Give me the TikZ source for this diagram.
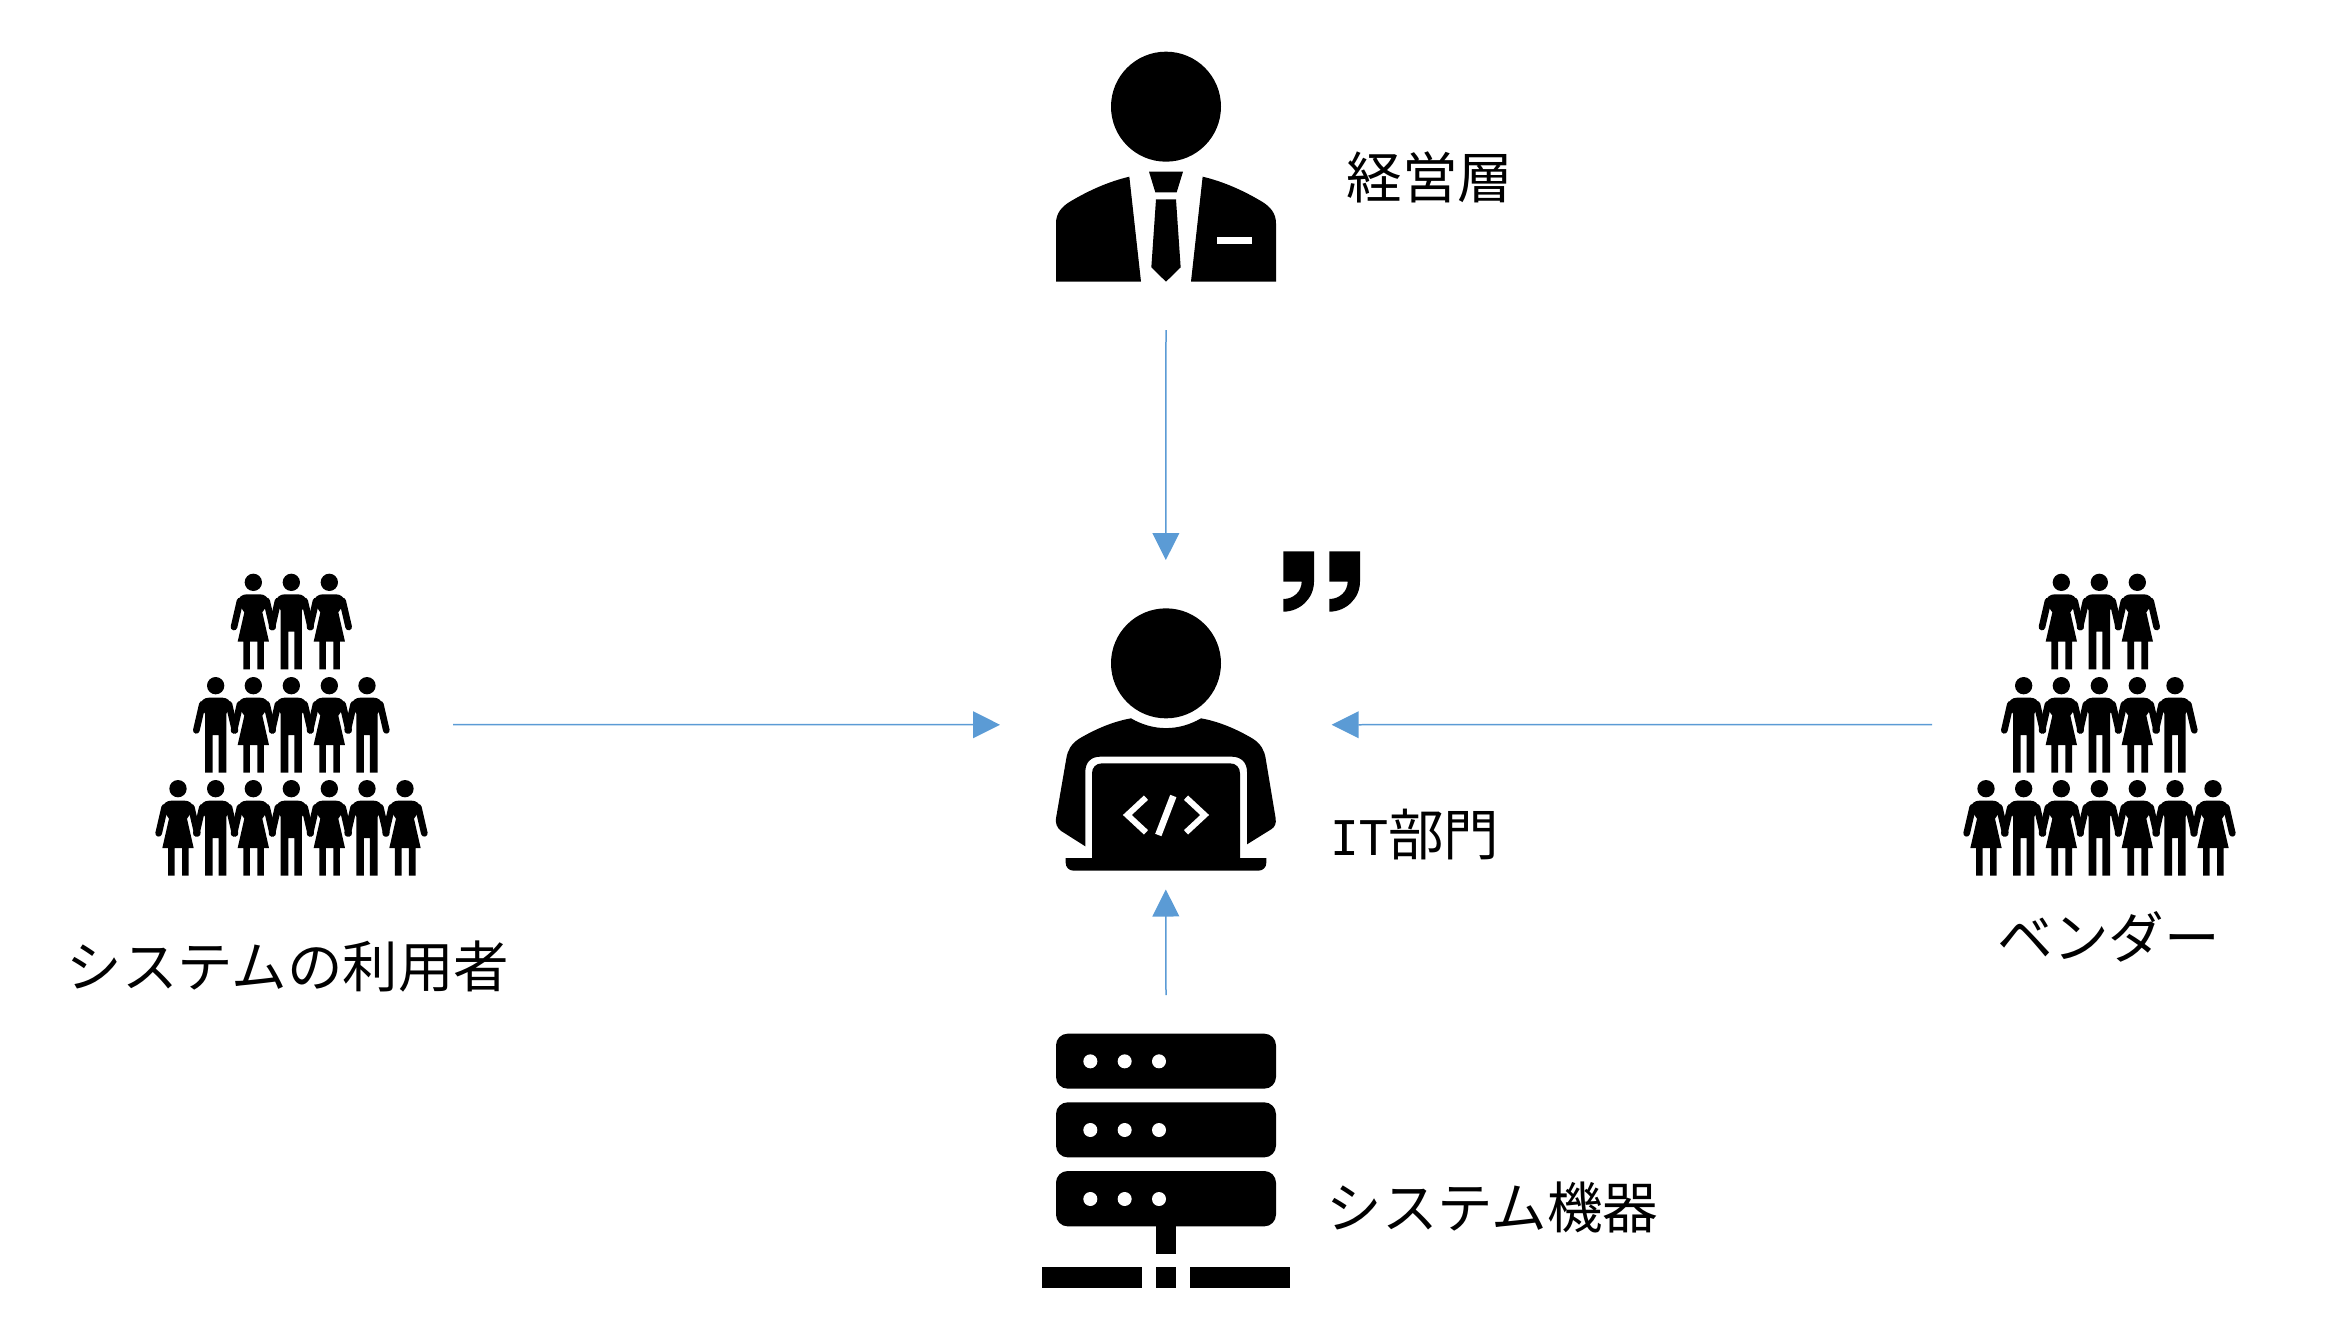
\documentclass[tikz,border=0pt]{standalone}
\usepackage{fontspec}
\usetikzlibrary{arrows.meta}
\setmainfont{Noto Sans CJK JP}
\newfontfamily\latinlab{DejaVu Sans Mono}
\definecolor{arrowblue}{HTML}{5B9BD5}
\newcommand{\headfig}{\fill (0,0) circle[radius=26];}
\newcommand{\armsfig}{%
  \draw[line width=0.667mm,line cap=round] (40,56) -- (58,134);
  \draw[line width=0.667mm,line cap=round] (-40,56) -- (-58,134);}
\newcommand{\manfig}[2]{\begin{scope}[shift={(#1,#2)}]
  \headfig\armsfig
  \fill (-20,36) -- (20,36) .. controls (34,36) and (44,44) .. (48,60) -- (32,84) -- (32,261) -- (9,261) -- (9,148) -- (-9,148) -- (-9,261) -- (-32,261) -- (-32,84) -- (-48,60) .. controls (-44,44) and (-34,36) .. (-20,36) -- cycle;
\end{scope}}
\newcommand{\womanfig}[2]{\begin{scope}[shift={(#1,#2)}]
  \headfig\armsfig
  \fill (-20,36) -- (20,36) .. controls (34,36) and (44,44) .. (48,60) -- (27,90) -- (47,178) -- (32,178) -- (32,261) -- (12,261) -- (12,178) -- (-10,178) -- (-10,261) -- (-30,261) -- (-30,178) -- (-47,178) -- (-27,90) -- (-48,60) .. controls (-44,44) and (-34,36) .. (-20,36) -- cycle;
\end{scope}}
\tikzset{
  crowd/.pic={\begin{scope}[scale=1/3]
    \womanfig{340}{67}\manfig{454}{67}\womanfig{568}{67}
    \manfig{227}{377}\womanfig{340}{377}\manfig{454}{377}\womanfig{568}{377}\manfig{681}{377}
    \womanfig{114}{686}\manfig{227}{686}\womanfig{340}{686}\manfig{454}{686}\womanfig{568}{686}\manfig{681}{686}\womanfig{795}{686}
  \end{scope}},
  iconbox/.style={inner sep=0pt,outer sep=0pt},
  flow/.style={draw=arrowblue,line width=0.15mm,-{Triangle[length=2.7mm,width=2.67mm,fill=arrowblue]}},
  lab/.style={anchor=west,inner sep=0pt,font=\fontsize{15.8pt}{18pt}\selectfont}
}
\begin{document}
\begin{tikzpicture}[x=0.1mm,y=-0.1mm]
\useasboundingbox (0,0) rectangle (2352,1326);
% invisible boxes: icons with their clearance
\node[iconbox,minimum width=22mm,minimum height=33mm] (mgr) at (1166,165) {};
\node[iconbox,minimum width=33.17mm,minimum height=32.95mm] (it) at (1165.85,724.75) {};
\node[iconbox,minimum width=30.3mm,minimum height=31mm] (users) at (301.5,724.5) {};
\node[iconbox,minimum width=30mm,minimum height=31mm] (vendor) at (2082,724.5) {};
\node[iconbox,minimum width=25mm,minimum height=30mm] (server) at (1166,1145) {};
% manager
\begin{scope}[shift={(1020,30)},scale=1/3]
  \fill (438,230) circle[radius=165];
  \fill (108,755) -- (108,580) .. controls (108,550) and (125,530) .. (150,515) .. controls (205,482) and (265,455) .. (328,440) -- (363,755) -- cycle;
  \fill (768,755) -- (768,580) .. controls (768,550) and (751,530) .. (726,515) .. controls (671,482) and (611,455) .. (548,440) -- (513,755) -- cycle;
  \fill[white] (592,621) rectangle (696,642);
  \fill (387,425) -- (489,425) -- (470,487) -- (406,487) -- cycle;
  \fill (408,508) -- (468,508) -- (482,712) -- (438,755) -- (394,712) -- cycle;
\end{scope}
% IT person
\begin{scope}[shift={(1020,530)},scale=1/3]
  \fill (438,400) circle[radius=165];
  \fill (333,565) .. controls (400,604) and (476,604) .. (543,565) .. controls (600,575) and (655,600) .. (700,627) .. controls (722,642) and (733,660) .. (737,685) -- (767,865) .. controls (769,880) and (765,890) .. (755,897) -- (681,943) -- (681,725) .. controls (681,697) and (663,680) .. (635,680) -- (241,680) .. controls (213,680) and (196,697) .. (196,725) -- (196,949) -- (122,902) .. controls (111,893) and (106,880) .. (108,865) -- (139,685) .. controls (143,660) and (154,642) .. (176,627) .. controls (221,600) and (276,575) .. (333,565) -- cycle;
  \fill (216,984) -- (216,730) .. controls (216,712) and (228,700) .. (246,700) -- (630,700) .. controls (648,700) and (660,712) .. (660,730) -- (660,984) -- (739,984) -- (739,998) .. controls (739,1012) and (729,1022) .. (715,1022) -- (161,1022) .. controls (147,1022) and (137,1012) .. (137,998) -- (137,984) -- cycle;
  \draw[white,line width=0.6mm] (378,803) -- (322,855) -- (378,907);
  \draw[white,line width=0.6mm] (498,803) -- (554,855) -- (498,907);
  \draw[white,line width=0.667mm] (460,798) -- (415,915);
  \foreach \dx in {0,138}{
    \fill[shift={(\dx,0)}] (790,64) -- (882,64) -- (882,155) .. controls (882,205) and (840,245) .. (790,245) -- (790,207) .. controls (820,207) and (845,185) .. (845,155) -- (790,155) -- cycle;
  }
\end{scope}
% server
\begin{scope}[shift={(1020,1020)},scale=1/3]
  \foreach \ya/\yb/\yc in {41/206/124,247/412/330,453/619/537}{
    \fill[rounded corners=1.167mm] (108,\ya) rectangle (768,\yb);
    \fill[white] (211,\yc) circle[radius=21] (314,\yc) circle[radius=21] (417,\yc) circle[radius=21];
  }
  \fill (407,619) rectangle (469,701);
  \fill (67,742) rectangle (366,804);
  \fill (407,742) rectangle (469,804);
  \fill (510,742) rectangle (809,804);
\end{scope}
% crowds
\pic at (140,560) {crowd};
\pic at (1948,560) {crowd};
% connectors
\draw[flow] (mgr.south) -- (it.north);
\draw[flow] (users.east) -- (it.west);
\draw[flow] (vendor.west) -- (it.east);
\draw[flow] (server.north) -- (it.south);
% labels
\node[lab] (l1) at (1346,177) {経営層};
\node[lab] (l2) at (1330,835) {{\latinlab\fontsize{13.6pt}{18pt}\selectfont IT}部門};
\node[lab] (l3) at (66,967) {システムの利用者};
\node[lab] (l4) at (1997,937) {ベンダー};
\node[lab] (l5) at (1326,1207) {システム機器};
\end{tikzpicture}
\end{document}
